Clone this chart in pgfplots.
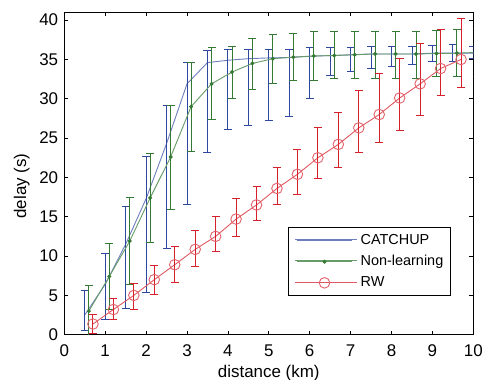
\documentclass[border=0pt]{standalone}
\usepackage{fontspec}
\setmainfont{Liberation Sans}
\usepackage{pgfplots}
\pgfplotsset{compat=1.18}
\definecolor{cblue}{RGB}{46,72,160}
\definecolor{cgreen}{RGB}{52,122,52}
\definecolor{cred}{RGB}{214,32,44}
\begin{document}
\begin{tikzpicture}
\begin{axis}[
 scale only axis, width=409bp, height=322.4bp,
 xmin=0, xmax=10, ymin=0, ymax=41,
 xtick={0,1,...,10}, ytick={0,5,...,40},
 tick align=inside, major tick length=4bp,
 axis line style={line width=0.8bp},
 every tick/.style={black, line width=0.8bp},
 tick label style={font=\fontsize{17}{20}\selectfont, inner sep=0pt},
 /pgf/number format/assume math mode=true,
 xticklabel shift=10bp, yticklabel shift=6bp,
 xlabel={distance (km)}, ylabel={delay (s)},
 label style={font=\fontsize{17}{20}\selectfont},
 xlabel style={at={(axis description cs:0.5,-0.1334)}, anchor=base},
 ylabel style={at={(axis description cs:-0.1042,0.461)}, anchor=center},
 legend style={at={(rel axis cs:0.9438,0.1191)}, anchor=south east, draw=black, line width=0.8bp,
   font=\fontsize{14.5}{17}\selectfont, inner xsep=6.6bp, inner ysep=6.3bp, row sep=7.7bp, column sep=3bp,
   nodes={inner sep=0pt, text height=10.5bp, text depth=3bp}},
 legend cell align=left,
 legend image code/.code={\path (-1.7bp,0) -- (60bp,0);
   \draw[mark repeat=2,mark phase=2] plot coordinates {(0bp,0bp)(27.35bp,0bp)(54.7bp,0bp)};},
]
\addplot[cblue!70!white, line width=0.9bp, mark=none,
  error bars/.cd, y dir=both, y explicit,
  error bar style={cblue, line width=0.9bp},
  error mark options={rotate=90, cblue, mark size=4bp, line width=0.9bp}]
coordinates {
(0.5,2.5) += (0,3.1) -= (0,1.9)
(1.0,6.4) += (0,3.9) -= (0,4.4)
(1.5,11.5) += (0,4.85) -= (0,8.15)
(2.0,17.3) += (0,5.4) -= (0,11.9)
(2.5,24.3) += (0,4.85) -= (0,13.3)
(3.0,31.9) += (0,2.7) -= (0,15.3)
(3.5,34.6) += (0,1.5) -= (0,11.4)
(4.0,34.9) += (0,1.4) -= (0,8.8)
(4.5,35.1) += (0,1.2) -= (0,8.5)
(5.0,35.2) += (0,1.1) -= (0,7.9)
(5.5,35.25) += (0,1.05) -= (0,7.5)
(6.0,35.4) += (0,1.1) -= (0,5.4)
(6.5,35.5) += (0,1.0) -= (0,2.5)
(7.0,35.6) += (0,0.9) -= (0,2.1)
(7.5,35.7) += (0,0.9) -= (0,1.9)
(8.0,35.7) += (0,0.9) -= (0,1.6)
(8.5,35.7) += (0,1.0) -= (0,1.3)
(9.0,35.8) += (0,1.0) -= (0,1.1)
(9.5,35.8) += (0,1.1) -= (0,1.1)
(10.0,35.8) += (0,0.9) -= (0,0.7)
};
\addlegendentry{CATCHUP}
\addplot[cgreen!75!white, line width=0.9bp, mark=*, mark size=1.5bp, mark options={cgreen, fill=cgreen},
  error bars/.cd, y dir=both, y explicit,
  error bar style={cgreen, line width=0.9bp},
  error mark options={rotate=90, cgreen, mark size=4bp, line width=0.9bp}]
coordinates {
(0.6,3.0) += (0,3.3) -= (0,3.1)
(1.1,7.4) += (0,4.2) -= (0,4.2)
(1.6,11.9) += (0,5.6) -= (0,5.5)
(2.1,17.4) += (0,5.65) -= (0,5.65)
(2.6,22.6) += (0,6.55) -= (0,6.7)
(3.1,29.0) += (0,5.6) -= (0,5.7)
(3.6,31.9) += (0,4.6) -= (0,4.5)
(4.1,33.4) += (0,3.2) -= (0,3.4)
(4.6,34.5) += (0,3.2) -= (0,3.3)
(5.1,35.1) += (0,3.1) -= (0,3.2)
(5.6,35.3) += (0,3.0) -= (0,3.0)
(6.1,35.45) += (0,3.05) -= (0,3.15)
(6.6,35.5) += (0,3.0) -= (0,2.9)
(7.1,35.6) += (0,2.9) -= (0,3.0)
(7.6,35.7) += (0,2.9) -= (0,3.1)
(8.1,35.7) += (0,2.9) -= (0,3.1)
(8.6,35.7) += (0,2.9) -= (0,3.1)
(9.1,35.75) += (0,2.95) -= (0,2.95)
(9.6,35.8) += (0,3.0) -= (0,3.0)
(10.1,35.9) += (0,3.0) -= (0,3.0)
};
\addlegendentry{Non-learning}
\addplot[cred!75!white, line width=0.9bp, mark=o, mark size=5.3bp, mark options={cred!70!white, line width=0.9bp},
  error bars/.cd, y dir=both, y explicit,
  error bar style={cred, line width=0.9bp},
  error mark options={rotate=90, cred, mark size=4bp, line width=0.9bp}]
coordinates {
(0.7,1.36) += (0,1.24) -= (0,1.26)
(1.2,3.2) += (0,1.4) -= (0,1.24)
(1.7,5.0) += (0,1.5) -= (0,1.8)
(2.2,7.0) += (0,1.8) -= (0,1.9)
(2.7,8.9) += (0,2.3) -= (0,2.2)
(3.2,10.85) += (0,2.35) -= (0,2.15)
(3.7,12.5) += (0,2.5) -= (0,1.9)
(4.2,14.7) += (0,2.6) -= (0,2.2)
(4.7,16.5) += (0,2.4) -= (0,2.0)
(5.2,18.6) += (0,2.7) -= (0,2.0)
(5.7,20.4) += (0,3.2) -= (0,2.6)
(6.2,22.5) += (0,3.8) -= (0,2.6)
(6.7,24.2) += (0,4.1) -= (0,2.9)
(7.2,26.3) += (0,4.8) -= (0,3.1)
(7.7,28.0) += (0,5.2) -= (0,3.6)
(8.2,30.1) += (0,5.0) -= (0,4.1)
(8.7,31.9) += (0,5.1) -= (0,4.0)
(9.2,33.85) += (0,4.95) -= (0,3.45)
(9.7,35.0) += (0,5.2) -= (0,3.6)
};
\addlegendentry{RW}
\end{axis}
\pgfresetboundingbox
\path ([shift={(-64.3bp,-45.3bp)}]current axis.south west) rectangle ([shift={(17.7bp,12.3bp)}]current axis.north east);
\end{tikzpicture}
\end{document}
